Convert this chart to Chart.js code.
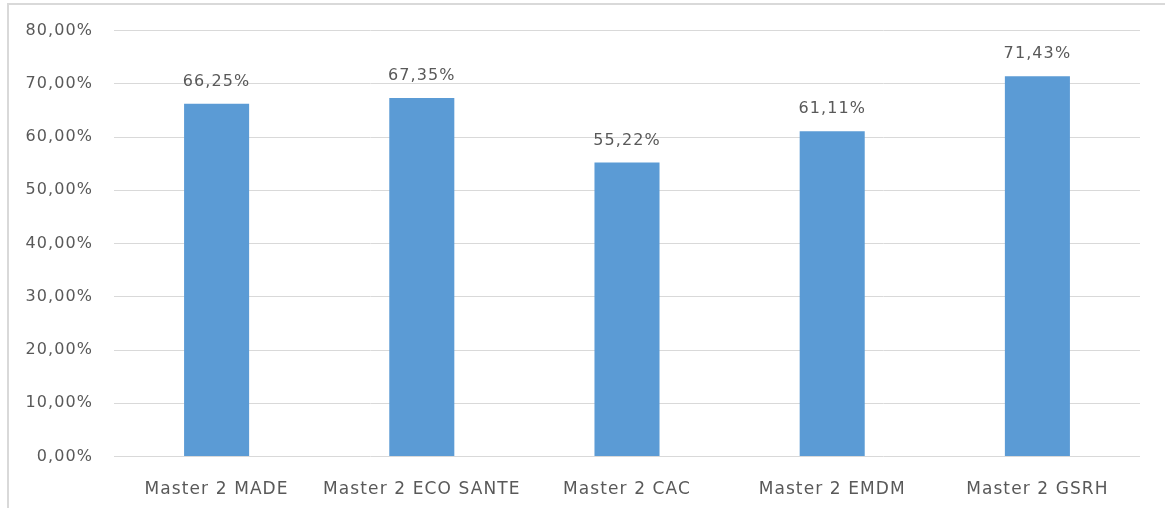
<!DOCTYPE html>
<html>
<head>
<meta charset="utf-8">
<script src="https://cdn.jsdelivr.net/npm/chart.js@4"></script>
<style>
  html, body { margin: 0; padding: 0; background: #fff; overflow: hidden; }
  #wrap { position: relative; width: 1165px; height: 508px; overflow: hidden; }
  .line { position: absolute; background: #d9d9d9; }
  #topLine { left: 7px; top: 3px; width: 1158px; height: 2px; }
  #leftLine { left: 7px; top: 3px; width: 2px; height: 505px; }
  #chart { position: absolute; left: 0; top: 0; }
</style>
</head>
<body>
<div id="wrap">
  <div class="line" id="topLine"></div>
  <div class="line" id="leftLine"></div>
  <canvas id="chart" width="1165" height="508"></canvas>
</div>
<script>
const categories = ["Master 2 MADE", "Master 2 ECO SANTE", "Master 2 CAC", "Master 2 EMDM", "Master 2 GSRH"];
const values = [66.25, 67.35, 55.22, 61.11, 71.43];
const yTicks = [0, 10, 20, 30, 40, 50, 60, 70, 80];

const textColor = "#595959";
const fontFamily = "'DejaVu Sans', sans-serif";

// french style percentage: 66,25%
function pct(v) {
  return v.toFixed(2).replace(".", ",") + "%";
}

// spacing plugin, the reference text is quite wide
const spacing = {
  id: "spacing",
  beforeUpdate(chart) { chart.ctx.letterSpacing = "1.1px"; },
  beforeDraw(chart) { chart.ctx.letterSpacing = "1.1px"; }
};

// value labels above the bars
const barLabels = {
  id: "barLabels",
  afterDatasetsDraw(chart) {
    const ctx = chart.ctx;
    const meta = chart.getDatasetMeta(0);
    ctx.save();
    ctx.letterSpacing = "1.1px";
    ctx.font = "16px " + fontFamily;
    ctx.fillStyle = textColor;
    ctx.textAlign = "center";
    ctx.textBaseline = "middle";
    meta.data.forEach((bar, i) => {
      ctx.fillText(pct(values[i]), bar.x, bar.y - 22);
    });
    ctx.restore();
  }
};

new Chart(document.getElementById("chart"), {
  type: "bar",
  data: {
    labels: categories,
    datasets: [{
      data: values,
      backgroundColor: "#5b9bd5",
      categoryPercentage: 1,
      barPercentage: 0.317
    }]
  },
  options: {
    responsive: false,
    animation: false,
    layout: { padding: { top: 29, right: 25, bottom: 0, left: 0 } },
    plugins: {
      legend: { display: false },
      tooltip: { enabled: false }
    },
    scales: {
      x: {
        grid: { display: false },
        border: { display: false },
        ticks: {
          color: textColor,
          font: { family: fontFamily, size: 17 },
          padding: 15,
          maxRotation: 0
        },
        afterFit(scale) { scale.height = 51.5; }
      },
      y: {
        min: 0,
        max: 80,
        afterBuildTicks(scale) { scale.ticks = yTicks.map(v => ({ value: v })); },
        grid: { color: "#d9d9d9", lineWidth: 1, drawTicks: false },
        border: { display: false },
        ticks: {
          color: textColor,
          font: { family: fontFamily, size: 16 },
          padding: 21,
          callback: v => pct(v)
        },
        afterFit(scale) { scale.width = 114; }
      }
    }
  },
  plugins: [spacing, barLabels]
});
</script>
</body>
</html>
